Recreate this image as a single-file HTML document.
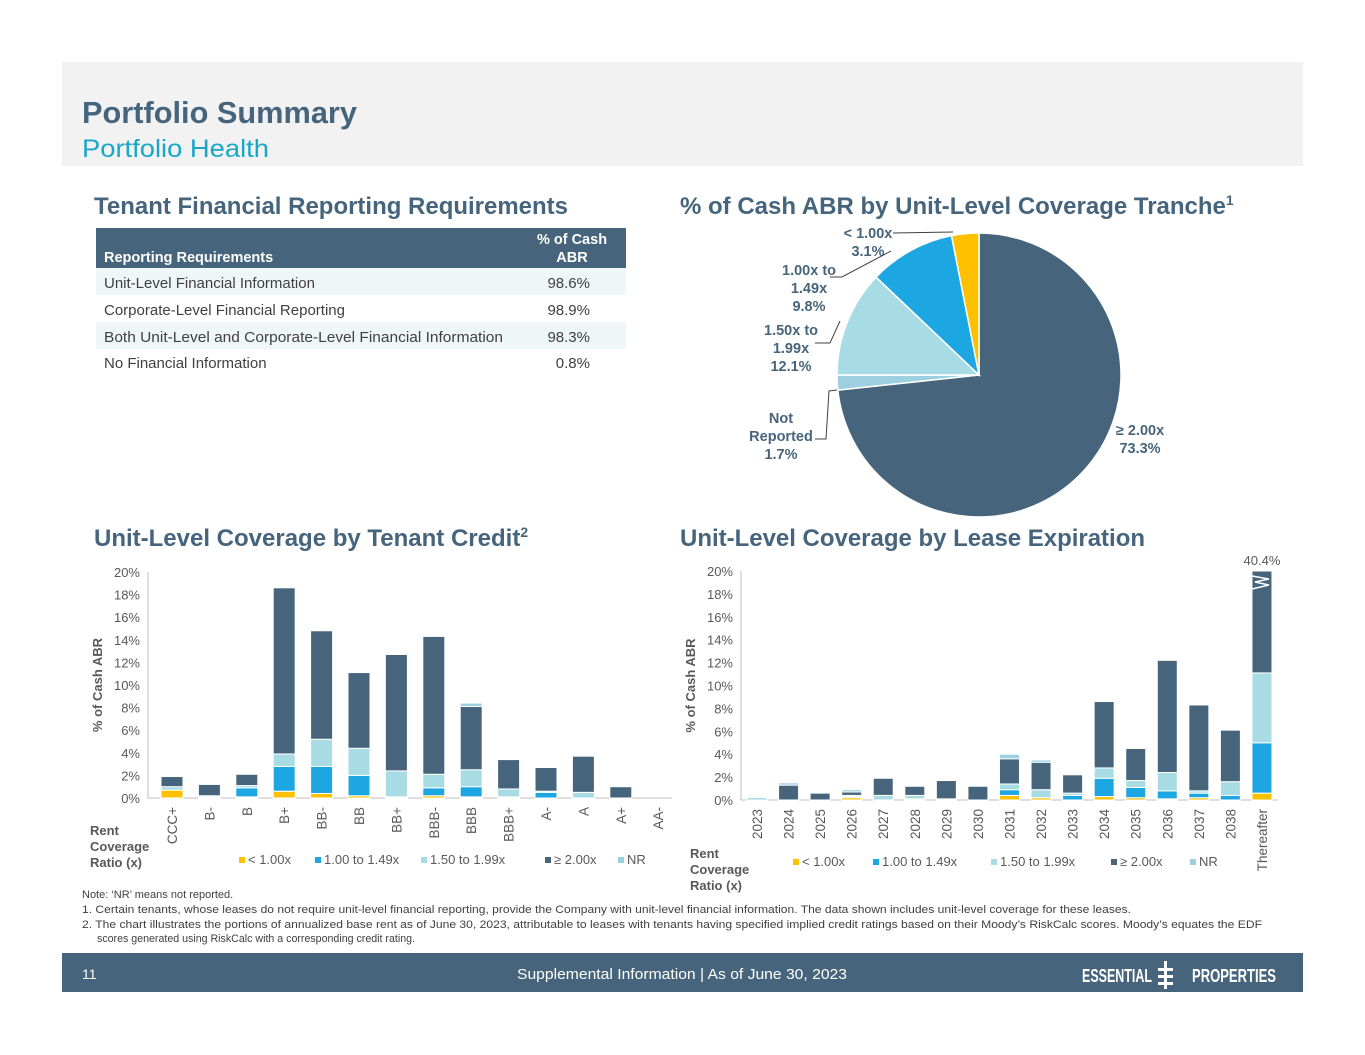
<!DOCTYPE html>
<html><head><meta charset="utf-8"><style>
body{margin:0;background:#fff;font-family:"Liberation Sans",Arial,sans-serif}
svg{display:block}
text{font-family:"Liberation Sans",Arial,sans-serif}
</style></head><body>
<svg id="s" width="1365" height="1055" viewBox="0 0 1365 1055" xmlns="http://www.w3.org/2000/svg">
<rect x="62" y="62" width="1241" height="104" fill="#f2f2f2"/>
<text x="82" y="123" font-size="30.5" font-weight="bold" fill="#46657d" textLength="275" lengthAdjust="spacingAndGlyphs">Portfolio Summary</text>
<text x="82" y="157" font-size="25" fill="#1aa6c9" textLength="187" lengthAdjust="spacingAndGlyphs">Portfolio Health</text>

<text x="94" y="214" font-size="24" font-weight="bold" fill="#46657d" textLength="474" lengthAdjust="spacingAndGlyphs">Tenant Financial Reporting Requirements</text>
<g>
<rect x="96" y="228" width="530" height="40" fill="#46657d"/>
<text x="104" y="262" font-size="14.5" font-weight="bold" fill="#fff">Reporting Requirements</text>
<text x="572" y="244" font-size="14.5" font-weight="bold" fill="#fff" text-anchor="middle">% of Cash</text>
<text x="572" y="262" font-size="14.5" font-weight="bold" fill="#fff" text-anchor="middle">ABR</text>
<rect x="96" y="268" width="530" height="27" fill="#eef6f8"/>
<rect x="96" y="322" width="530" height="27" fill="#eef6f8"/>
<text x="104" y="288" font-size="15" fill="#404040">Unit-Level Financial Information</text><text x="590" y="288" font-size="15" fill="#404040" text-anchor="end">98.6%</text>
<text x="104" y="315" font-size="15" fill="#404040">Corporate-Level Financial Reporting</text><text x="590" y="315" font-size="15" fill="#404040" text-anchor="end">98.9%</text>
<text x="104" y="342" font-size="15" fill="#404040" textLength="399" lengthAdjust="spacingAndGlyphs">Both Unit-Level and Corporate-Level Financial Information</text><text x="590" y="342" font-size="15" fill="#404040" text-anchor="end">98.3%</text>
<text x="104" y="368" font-size="15" fill="#404040">No Financial Information</text><text x="590" y="368" font-size="15" fill="#404040" text-anchor="end">0.8%</text>
</g>

<text x="680" y="214" font-size="24" font-weight="bold" fill="#46657d">% of Cash ABR by Unit-Level Coverage Tranche<tspan font-size="14" dy="-9">1</tspan></text>
<g id="pie"></g>

<text x="94" y="546" font-size="24" font-weight="bold" fill="#46657d">Unit-Level Coverage by Tenant Credit<tspan font-size="14" dy="-9">2</tspan></text>
<text x="680" y="546" font-size="24" font-weight="bold" fill="#46657d" textLength="465" lengthAdjust="spacingAndGlyphs">Unit-Level Coverage by Lease Expiration</text>
<g id="c1"></g><g id="c2"></g>

<g font-size="11" fill="#404040">
<text x="82" y="898">Note: ‘NR’ means not reported.</text>
<text x="82" y="913" textLength="1049" lengthAdjust="spacingAndGlyphs">1.  Certain tenants, whose leases do not require unit-level financial reporting, provide the Company with unit-level financial information. The data shown includes unit-level coverage for these leases.</text>
<text x="82" y="928" textLength="1180" lengthAdjust="spacingAndGlyphs">2.  The chart illustrates the portions of annualized base rent as of June 30, 2023, attributable to leases with tenants having specified implied credit ratings based on their Moody’s RiskCalc scores. Moody’s equates the EDF</text>
<text x="97" y="942" textLength="318" lengthAdjust="spacingAndGlyphs">scores generated using RiskCalc with a corresponding credit rating.</text>
</g>
<rect x="62" y="953" width="1241" height="39" fill="#46657d"/>
<text x="82" y="979" font-size="14" fill="#fff">11</text>
<text x="517" y="979" font-size="15" fill="#fff" textLength="330" lengthAdjust="spacingAndGlyphs">Supplemental Information |  As of June 30, 2023</text>
<g>
<text x="1082" y="982" font-size="18" font-weight="bold" fill="#fff" textLength="70" lengthAdjust="spacingAndGlyphs">ESSENTIAL</text>
<rect x="1164" y="961" width="3" height="28" fill="#fff"/><rect x="1158" y="968" width="15" height="3" fill="#fff"/><rect x="1158" y="975" width="15" height="3" fill="#fff"/><rect x="1158" y="982" width="15" height="3" fill="#fff"/>
<text x="1192" y="982" font-size="18" font-weight="bold" fill="#fff" textLength="84" lengthAdjust="spacingAndGlyphs">PROPERTIES</text>
</g>
</svg>
<script>
const NS="http://www.w3.org/2000/svg";
const COLORS=["#ffc000","#1da7e2","#a8dce5","#46657d","#9ccfe0"];
const seriesNames=["< 1.00x","1.00 to 1.49x","1.50 to 1.99x","≥ 2.00x","NR"];
// credit chart data
const creditCats=["CCC+","B-","B","B+","BB-","BB","BB+","BBB-","BBB","BBB+","A-","A","A+","AA-"];
const creditLt1=[0.7,0.1,0.1,0.6,0.4,0.2,0.1,0.2,0.1,0.1,0,0,0,0];
const credit1to149=[0,0,0.8,2.2,2.4,1.8,0,0.7,0.9,0,0.5,0,0,0];
const credit150to199=[0.3,0.1,0.2,1.1,2.4,2.4,2.3,1.2,1.5,0.7,0.1,0.5,0,0];
const creditGe2=[0.9,1.0,1.0,14.7,9.6,6.7,10.3,12.2,5.6,2.6,2.1,3.2,1.0,0];
const creditNR=[0,0,0,0,0,0,0,0,0.3,0,0,0,0,0];
// expiration chart data
const expCats=["2023","2024","2025","2026","2027","2028","2029","2030","2031","2032","2033","2034","2035","2036","2037","2038","Thereafter"];
const expLt1=[0,0,0,0.2,0,0.1,0.1,0,0.4,0.2,0,0.3,0.2,0.1,0.2,0,0.6];
const exp1to149=[0,0,0,0.1,0,0,0,0,0.5,0,0.4,1.6,0.9,0.7,0.4,0.4,4.4];
const exp150to199=[0,0,0,0.1,0.4,0.3,0,0,0.5,0.7,0.2,0.9,0.6,1.6,0.2,1.2,6.1];
const expGe2=[0,1.3,0.6,0.3,1.5,0.8,1.6,1.2,2.2,2.4,1.6,5.8,2.8,9.8,7.5,4.5,29.3];
const expNR=[0.2,0.2,0,0.2,0,0,0,0,0.4,0.2,0,0,0,0,0,0,0];
const yTicks=[0,2,4,6,8,10,12,14,16,18,20];
// pie data
const pieLabels=["≥ 2.00x","Not Reported","1.50x to 1.99x","1.00x to 1.49x","< 1.00x"];
const pieValues=[73.3,1.7,12.1,9.8,3.1];

function el(tag,attrs,parent,txt){const e=document.createElementNS(NS,tag);for(const k in attrs)e.setAttribute(k,attrs[k]);if(txt!==undefined)e.textContent=txt;parent.appendChild(e);return e;}

function chart(g,cfg){
  const y=v=>cfg.y0-(Math.min(v,20)/20)*(cfg.y0-cfg.y20);
  const x=i=>cfg.x0+cfg.step*i;
  el('line',{x1:cfg.ax,y1:cfg.y20,x2:cfg.ax,y2:cfg.y0,stroke:'#bfbfbf'},g);
  el('line',{x1:cfg.ax,y1:cfg.y0,x2:cfg.axEnd,y2:cfg.y0,stroke:'#bfbfbf'},g);
  yTicks.forEach(t=>{const tx=el('text',{x:cfg.ax-8,y:y(t)+5,'font-size':13,fill:'#595959','text-anchor':'end'},g,t+'%');
    
    });
  const yt=el('text',{transform:`translate(${cfg.ax-46},${(cfg.y0+cfg.y20)/2}) rotate(-90)`,'font-size':13,'font-weight':'bold',fill:'#595959','text-anchor':'middle'},g,'% of Cash ABR');
  
  
  cfg.cats.forEach((c,i)=>{
    let acc=0;
    cfg.series.forEach((s,k)=>{const v=s[i];if(v>0){const top=acc+v;
      const r=el('rect',{x:x(i)-cfg.bw/2,y:y(top),width:cfg.bw,height:Math.max(0,y(acc)-y(top)),fill:COLORS[k],stroke:'#fff','stroke-width':1},g);
      
      
      acc=top;}});
    const lb=el('text',{transform:`translate(${x(i)+5},${cfg.y0+9}) rotate(-90)`,'font-size':13.5,fill:'#595959','text-anchor':'end'},g,c);
    
    
    if(acc>20){
      const lab=el('text',{x:x(i),y:cfg.y20-6,'font-size':13,fill:'#595959','text-anchor':'middle'},g,acc.toFixed(1)+'%');
      
      
      const yb=cfg.y20;
      el('polyline',{points:`${x(i)-cfg.bw/2},${yb+5} ${x(i)+cfg.bw/2-3},${yb+8} ${x(i)-cfg.bw/2+3},${yb+11} ${x(i)+cfg.bw/2-3},${yb+14} ${x(i)-cfg.bw/2},${yb+18}`,fill:'none',stroke:'#fff','stroke-width':1.5},g);
    }
  });
  const lt=el('g',{},g);
  
  
  ['Rent','Coverage','Ratio (x)'].forEach((t,j)=>el('text',{x:cfg.lx,y:cfg.ly+j*16,'font-size':13,'font-weight':'bold',fill:'#595959'},lt,t));
  seriesNames.forEach((n,k)=>{const lg=el('g',{},g);
    
    
    el('rect',{x:cfg.legX[k],y:cfg.legY-7,width:6,height:6,fill:COLORS[k]},lg);
    el('text',{x:cfg.legX[k]+9,y:cfg.legY,'font-size':13,fill:'#595959'},lg,n);});
}
chart(document.getElementById('c1'),{cats:creditCats,series:[creditLt1,credit1to149,credit150to199,creditGe2,creditNR],
  y0:798,y20:572,ax:148,axEnd:672,x0:172,step:37.4,bw:22,lx:90,ly:835,legY:864,legX:[239,315,421,545,618]});
chart(document.getElementById('c2'),{cats:expCats,series:[expLt1,exp1to149,exp150to199,expGe2,expNR],
  y0:800,y20:571,ax:741,axEnd:1278,x0:757,step:31.56,bw:20,lx:690,ly:858,legY:866,legX:[793,873,991,1111,1190]});

// pie
(function(){
  const g=document.getElementById('pie');const cx=979,cy=375,r=142;
  const total=pieValues.reduce((a,b)=>a+b,0);
  const pc=[COLORS[3],COLORS[4],COLORS[2],COLORS[1],COLORS[0]];
  let a=0;
  pieValues.forEach((v,i)=>{const a0=a/total*2*Math.PI,a1=(a+v)/total*2*Math.PI;a+=v;
    const p=t=>[cx+r*Math.sin(t),cy-r*Math.cos(t)];const [x0,y0]=p(a0),[x1,y1]=p(a1);
    const s=el('path',{d:`M${cx},${cy}L${x0},${y0}A${r},${r} 0 ${a1-a0>Math.PI?1:0} 1 ${x1},${y1}Z`,fill:pc[i],stroke:'#fff','stroke-width':1.5},g);
    
    });
  const labs=[
    {lines:['≥ 2.00x','73.3%'],x:1140,y:435},
    {lines:['Not','Reported','1.7%'],x:781,y:423},
    {lines:['1.50x to','1.99x','12.1%'],x:791,y:335},
    {lines:['1.00x to','1.49x','9.8%'],x:809,y:275},
    {lines:['< 1.00x','3.1%'],x:868,y:238}];
  labs.forEach((L,i)=>{L.lines.forEach((t,j)=>{const tx=el('text',{x:L.x,y:L.y+j*18,'font-size':14.5,'font-weight':'bold',fill:'#46657d','text-anchor':'middle'},g,t);
    
    });});
  el('polyline',{points:'815,439 826,439 829,391 837,390',fill:'none',stroke:'#404040'},g);
  el('polyline',{points:'815,343 830,343 840,321',fill:'none',stroke:'#404040'},g);
  el('polyline',{points:'830,277 842,277 891,251',fill:'none',stroke:'#404040'},g);
  el('polyline',{points:'893,233 953,232',fill:'none',stroke:'#404040'},g);
})();
</script>
</body></html>
